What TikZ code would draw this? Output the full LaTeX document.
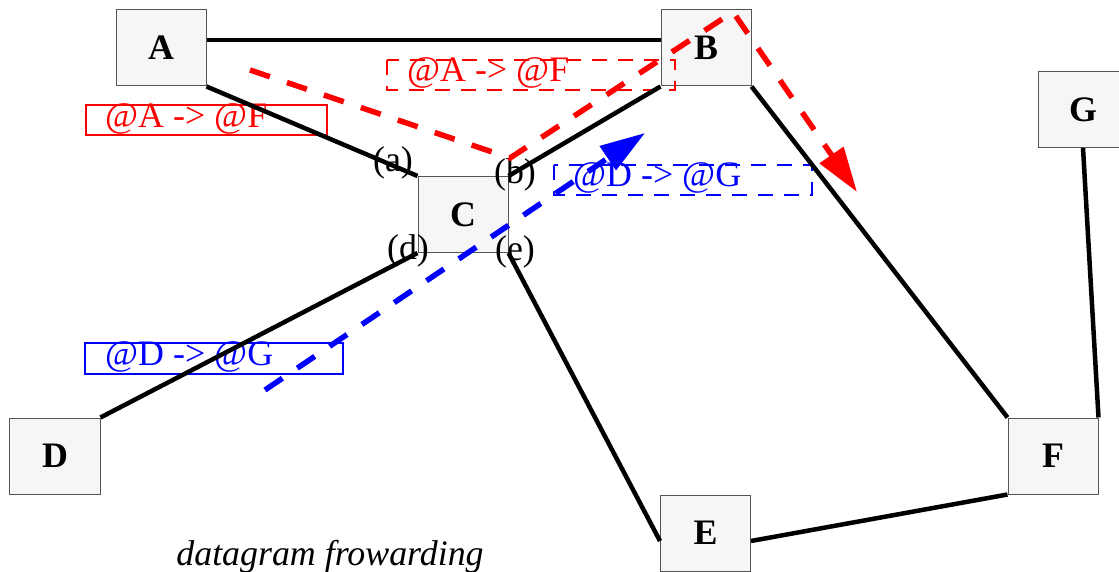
\documentclass[tikz,border=0pt]{standalone}
\usepackage{fontspec}
\setmainfont{Liberation Serif}
\usetikzlibrary{arrows.meta}
\definecolor{boxfill}{HTML}{F6F6F6}
\definecolor{boxline}{HTML}{555555}
\definecolor{rednet}{HTML}{FF0000}
\definecolor{bluenet}{HTML}{0000FF}
\begin{document}
\begin{tikzpicture}[x=1bp,y=-1bp,
  router/.style={draw=boxline, fill=boxfill, line width=1bp, minimum width=90bp,
    minimum height=76bp, inner sep=0pt, font=\fontsize{36}{40}\selectfont\bfseries},
  link/.style={line width=4.5bp},
  port/.style={font=\fontsize{36}{40}\selectfont, inner sep=0pt},
  tag/.style={font=\fontsize{36}{40}\selectfont, inner sep=0pt, anchor=base west},
  tagbox/.style={line width=1.2bp},
  tagdash/.style={line width=1.2bp, dash pattern=on 15bp off 11bp},
  route/.style={line width=5.5bp, dash pattern=on 21bp off 18bp,
    -{Triangle[length=45bp,width=28bp]}},
  caption/.style={font=\fontsize{36}{40}\selectfont\itshape, inner sep=0pt, anchor=base}]
\useasboundingbox (0,0) rectangle (1119,572);

% routers
\node[router] (A) at (161,48) {A};
\node[router] (B) at (706,48) {B};
\node[router] (C) at (463,214.5) {C};
\node[router] (D) at (55,456) {D};
\node[router] (E) at (705.5,533) {E};
\node[router] (F) at (1053,456) {F};
\node[router] (G) at (1083,109.5) {G};

% port labels
\node[port] (pa) at (393,163) {(a)};
\node[port] (pb) at (515,175) {(b)};
\node[port] (pd) at (408,251) {(d)};
\node[port] (pe) at (515,252) {(e)};

% route tags
\draw[tagbox, rednet] (86,105) rectangle (327,135);
\node[tag, text=rednet] (t1) at (105,128) {@A -> @F};
\draw[tagdash, rednet] (387,60) rectangle (675,90);
\node[tag, text=rednet] (t2) at (407,82) {@A -> @F};
\draw[tagdash, bluenet] (554,165) rectangle (812,195);
\node[tag, text=bluenet] (t3) at (573,187) {@D -> @G};
\draw[tagbox, bluenet] (85,343) rectangle (343,374);
\node[tag, text=bluenet] (t4) at (105,365) {@D -> @G};

% links
\draw[link] ([yshift=8bp]A.east) -- ([yshift=8bp]B.west);
\draw[link] (A.south east) -- (C.north west);
\draw[link] (B.south west) -- (C.north east);
\draw[link] (B.south east) -- (F.north west);
\draw[link] (G.south) -- (F.north east);
\draw[link] (F.south west) -- ([yshift=-8bp]E.east);
\draw[link] (C.south east) -- ([yshift=-8bp]E.west);
\draw[link] (C.south west) -- (D.north east);

% datagram routes
\coordinate (r0) at (250,70);
\coordinate (r1) at (510,158);
\coordinate (r2) at (733,12);
\coordinate (r3) at (857,192);
\draw[route, rednet] (r0) -- (r1) -- (r2) -- (r3);
\coordinate (b0) at (265,390);
\coordinate (b1) at (645,133);
\draw[route, bluenet] (b0) -- (b1);

% caption
\node[caption] (cap) at (330,565) {datagram frowarding};
\end{tikzpicture}
\end{document}
